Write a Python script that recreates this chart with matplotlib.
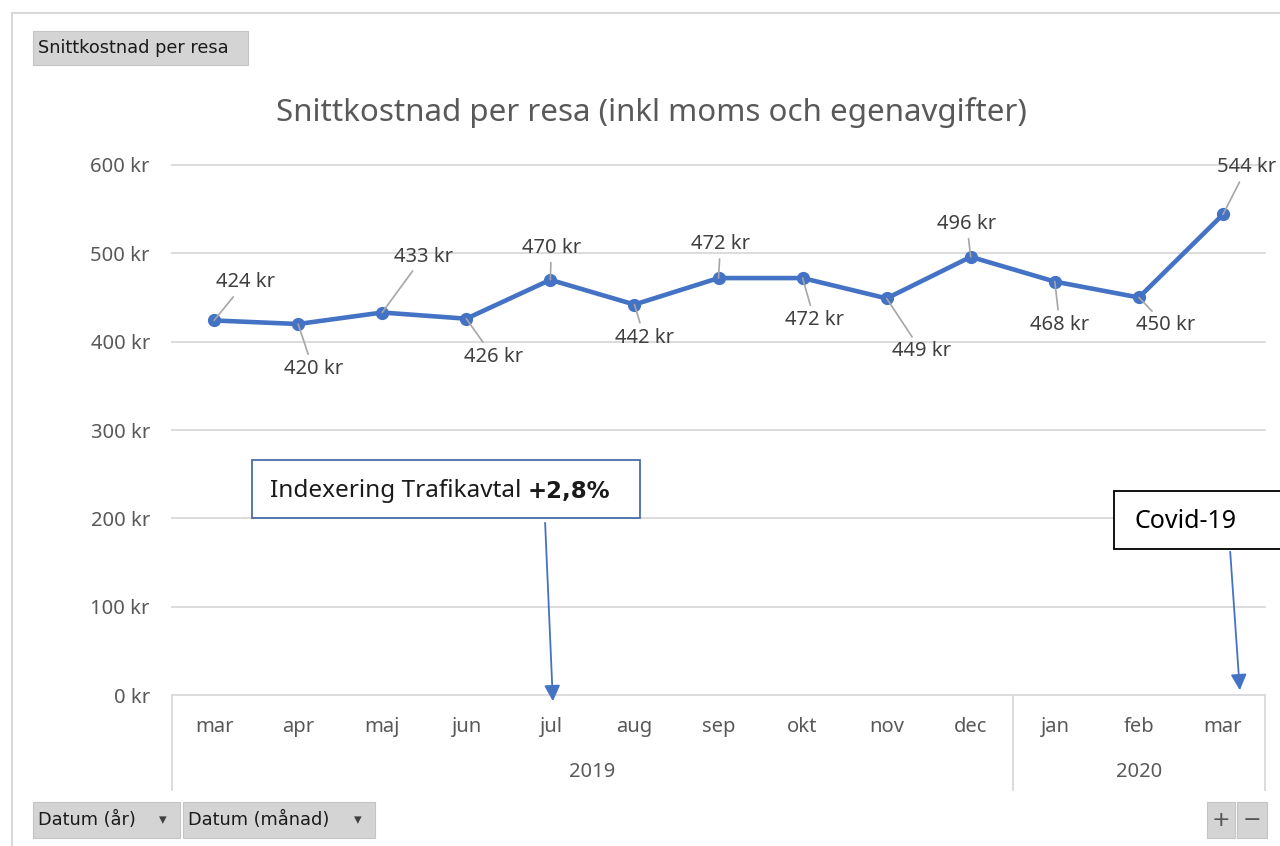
import matplotlib.pyplot as plt
from matplotlib.patches import Rectangle, FancyArrowPatch
from matplotlib.lines import Line2D
from matplotlib.text import Annotation
from matplotlib.transforms import blended_transform_factory

# data
months = ["mar", "apr", "maj", "jun", "jul", "aug", "sep", "okt", "nov", "dec", "jan", "feb", "mar"]
years = ["2019", "2020"]
year_counts = [10, 3]
cost = [424, 420, 433, 426, 470, 442, 472, 472, 449, 496, 468, 450, 544]
yticks = [0, 100, 200, 300, 400, 500, 600]

# label offsets from the point, in pixels (x, y up)
label_off = [(31, 38), (15, -45), (41, 56), (27, -38), (1, 32), (10, -33), (2, 34),
             (12, -42), (35, -53), (-4, 33), (5, -43), (27, -28), (24, 47)]

W, H = 1280, 846
plt.rcParams['font.family'] = ['Noto Sans', 'DejaVu Sans']
blue = '#4472C4'
grey_txt = '#595959'


def fx(x):
    return x / W


def fy(y):
    return 1 - y / H


def button(fig, x0, x1, y0, y1, text, arrow=False, family='DejaVu Sans'):
    fig.patches.append(Rectangle((fx(x0), fy(y1)), fx(x1 - x0), (y1 - y0) / H,
                                 transform=fig.transFigure, facecolor='#d4d4d4',
                                 edgecolor='#c4c4c4', lw=0.8))
    fig.text(fx(x0 + 5), fy((y0 + y1) / 2), text, fontsize=12.8, family=family,
             va='center', ha='left', color='#1a1a1a')
    if arrow:
        fig.text(fx(x1 - 17), fy((y0 + y1) / 2), "\u25BE", fontsize=11,
                 family='DejaVu Sans', va='center', ha='center', color='#404040')


def main():
    fig = plt.figure(figsize=(W / 100, H / 100), dpi=100)
    ax = fig.add_axes([fx(172), fy(695), fx(1265 - 172), (695 - 165) / H])

    x = list(range(len(months)))
    ax.plot(x, cost, color=blue, lw=3.3, marker='o', markersize=8.5, zorder=3,
            solid_capstyle='round')

    ax.set_xlim(-0.5, len(months) - 0.5)
    ax.set_ylim(0, 600)
    ax.set_yticks(yticks)
    ax.set_yticklabels([f"{v} kr" for v in yticks], color=grey_txt, fontsize=14.5)
    ax.tick_params(axis='y', length=0, pad=16)
    ax.set_xticks([])
    for s in ax.spines.values():
        s.set_visible(False)
    for v in yticks:
        ax.axhline(v, color='#d9d9d9', lw=1.3, zorder=1, clip_on=False)

    # data labels with leader lines
    for i, v in enumerate(cost):
        ax.annotate(f"{v} kr", xy=(i, v), xytext=label_off[i], textcoords='offset pixels',
                    ha='center', va='center', fontsize=14.5, color='#404040', zorder=4,
                    arrowprops=dict(arrowstyle='-', color='#a6a6a6', lw=1.2,
                                    shrinkA=1.5, shrinkB=0))

    # category axis (months and years)
    tr = blended_transform_factory(ax.transData, ax.transAxes)
    ax_h = 695 - 165
    for i, m in enumerate(months):
        ax.text(i, -32 / ax_h, m, transform=tr, ha='center', va='center',
                fontsize=14.5, color=grey_txt)
    start = -0.5
    seps = [start]
    for yr, n in zip(years, year_counts):
        ax.text(start + n / 2, -77 / ax_h, yr, transform=tr, ha='center', va='center',
                fontsize=14.5, color=grey_txt)
        start += n
        seps.append(start)
    for s in seps:
        ax.plot([s, s], [0, -95 / ax_h], transform=tr, color='#d9d9d9', lw=1.3,
                clip_on=False)

    # title
    fig.text(fx(651), fy(112), "Snittkostnad per resa (inkl moms och egenavgifter)",
             ha='center', va='center', fontsize=22.5, color=grey_txt)

    # outer frame
    fig.add_artist(Line2D([fx(12), fx(12)], [fy(13), 0], color='#d9d9d9', lw=1.5))
    fig.add_artist(Line2D([fx(12), 1], [fy(13), fy(13)], color='#d9d9d9', lw=1.5))

    # field buttons
    button(fig, 33, 248, 31, 65, "Snittkostnad per resa")
    button(fig, 33, 180, 802, 838, "Datum (år)", arrow=True)
    button(fig, 183, 375, 802, 838, "Datum (månad)", arrow=True)
    button(fig, 1207, 1235, 802, 838, "")
    button(fig, 1237, 1267, 802, 838, "")
    fig.text(fx(1221), fy(820), "+", fontsize=16, ha='center', va='center',
             color='#555555', family='DejaVu Sans')
    fig.text(fx(1252), fy(820), "\u2212", fontsize=16, ha='center', va='center',
             color='#555555', family='DejaVu Sans')

    # callout: indexering
    fig.patches.append(Rectangle((fx(252), fy(518)), fx(640 - 252), 58 / H,
                                 transform=fig.transFigure, facecolor='white',
                                 edgecolor='#4a6ea8', lw=1.3, zorder=4))
    t1 = fig.text(fx(270), fy(491), "Indexering Trafikavtal ", fontsize=17.5,
                  ha='left', va='center', color='#1a1a1a', zorder=5)
    t2 = Annotation("+2,8%", xy=(1, 0.5), xycoords=t1, ha='left', va='center',
                    fontsize=16.5, fontweight='bold', family='DejaVu Sans',
                    color='#1a1a1a', zorder=5, annotation_clip=False)
    fig.add_artist(t2)
    fig.patches.append(FancyArrowPatch((fx(545), fy(520)), (fx(553), fy(704)),
                                       transform=fig.transFigure, arrowstyle='-|>',
                                       mutation_scale=24, color=blue, lw=1.3, zorder=5))

    # callout: covid
    fig.patches.append(Rectangle((fx(1114), fy(549)), fx(200), 58 / H,
                                 transform=fig.transFigure, facecolor='white',
                                 edgecolor='black', lw=1.3, zorder=4))
    fig.text(fx(1135), fy(521), "Covid-19", fontsize=18, ha='left', va='center',
             color='black', zorder=5)
    fig.patches.append(FancyArrowPatch((fx(1230), fy(549)), (fx(1240), fy(693)),
                                       transform=fig.transFigure, arrowstyle='-|>',
                                       mutation_scale=24, color=blue, lw=1.3, zorder=5))

    fig.savefig("out.png", dpi=100)


if __name__ == '__main__':
    main()
